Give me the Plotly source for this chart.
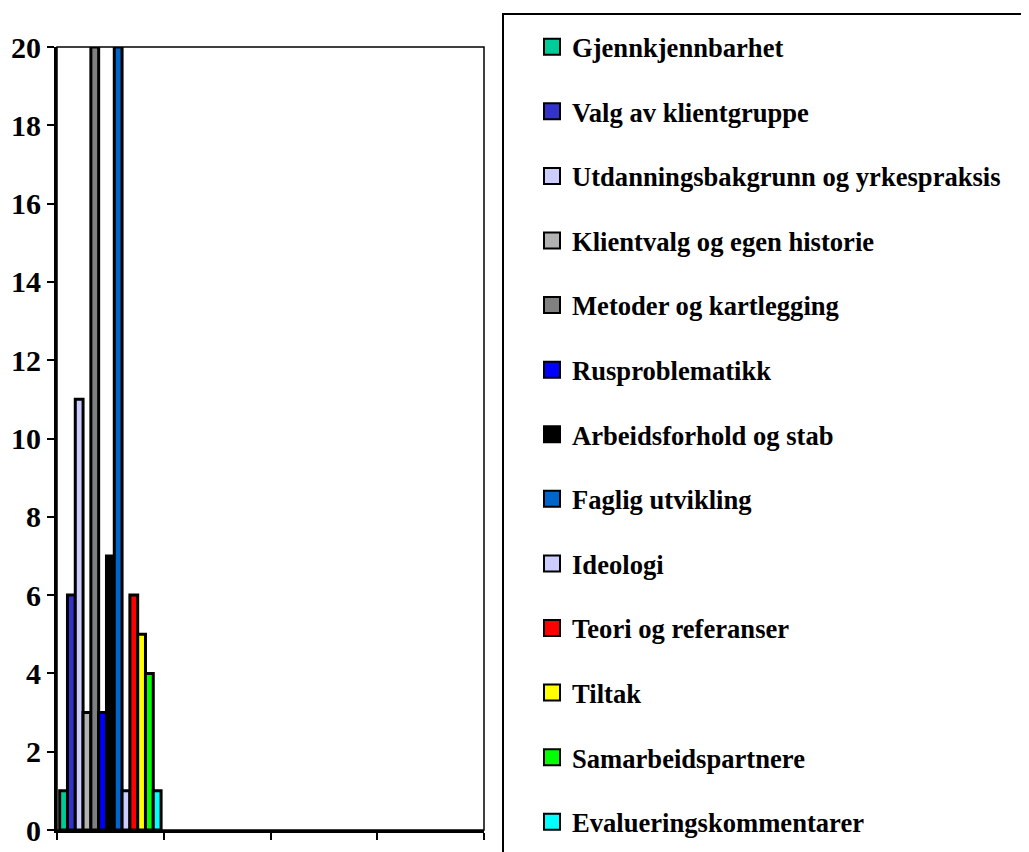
import plotly.graph_objects as go

series_names = [
    "Gjennkjennbarhet",
    "Valg av klientgruppe",
    "Utdanningsbakgrunn og yrkespraksis",
    "Klientvalg og egen historie",
    "Metoder og kartlegging",
    "Rusproblematikk",
    "Arbeidsforhold og stab",
    "Faglig utvikling",
    "Ideologi",
    "Teori og referanser",
    "Tiltak",
    "Samarbeidspartnere",
    "Evalueringskommentarer",
]
series_values = [1, 6, 11, 3, 20, 3, 7, 20, 1, 6, 5, 4, 1]
series_colors = [
    "#00CC99", "#3333CC", "#CCCCFF", "#B2B2B2", "#808080", "#0000FF", "#000000",
    "#0066CC", "#CCCCFF", "#FF0000", "#FFFF00", "#00FF00", "#00FFFF",
]
categories = ["K1", "K2", "K3", "K4"]
y_ticks = [0, 2, 4, 6, 8, 10, 12, 14, 16, 18, 20]

W, H = 1029, 852
OFF = 8  # page body margin
L, R, T, B = 57, 484, 47, 830  # plot area in window pixels


def fx(x):
    return (x - OFF) / W


def fy(y):
    return (H - (y - OFF)) / H


fig = go.Figure()
for i, (name, val, col) in enumerate(zip(series_names, series_values, series_colors)):
    fig.add_trace(go.Bar(
        x=categories,
        y=[val, None, None, None],
        name=name,
        showlegend=False,
        marker=dict(color=col, line=dict(color="black", width=3)),
    ))
# legend entries (same series, shown with larger square keys)
for i, (name, col) in enumerate(zip(series_names, series_colors)):
    fig.add_trace(go.Scatter(
        x=[None], y=[None], mode="markers", name=name, legendgroup=f"g{i}",
        marker=dict(symbol="square", size=16, color=col, line=dict(color="black", width=2)),
        hoverinfo="skip",
    ))

fig.update_layout(
    width=W, height=H,
    margin=dict(l=0, r=0, t=0, b=0),
    paper_bgcolor="white", plot_bgcolor="white",
    barmode="group", bargap=0.05, bargroupgap=0,
    font=dict(family="Liberation Serif", color="black"),
    showlegend=True,
    legend=dict(
        x=fx(532), y=fy(23), xanchor="left", yanchor="top",
        traceorder="grouped", tracegroupgap=27, maxheight=900,
        itemsizing="trace",
        font=dict(family="Liberation Serif", size=26.6, color="black", weight="bold"),
        bgcolor="rgba(0,0,0,0)", borderwidth=0,
    ),
    xaxis=dict(
        domain=[fx(L), fx(R)], automargin=False,
        type="category", categoryorder="array", categoryarray=categories,
        range=[-0.5, 3.5], showticklabels=False, showgrid=False,
        tickson="boundaries", ticks="outside", ticklen=7, tickwidth=2, tickcolor="black",
        showline=True, linecolor="black", linewidth=3, zeroline=False,
    ),
    yaxis=dict(
        domain=[fy(B), fy(T)], automargin=False,
        range=[0, 20], tickvals=y_ticks, showgrid=False, zeroline=False,
        ticks="outside", ticklen=7, tickwidth=2, tickcolor="black",
        showline=True, linecolor="black", linewidth=3,
        tickfont=dict(family="Liberation Serif", size=30, color="black", weight="bold"),
    ),
    shapes=[
        dict(type="rect", xref="paper", yref="paper", x0=fx(L), x1=fx(R), y0=fy(B), y1=fy(T),
             line=dict(color="black", width=1.5), fillcolor="rgba(0,0,0,0)", layer="above"),
        dict(type="rect", xref="paper", yref="paper",
             x0=fx(503), x1=fx(1027), y0=fy(870), y1=fy(14),
             line=dict(color="black", width=2), fillcolor="rgba(0,0,0,0)"),
    ],
)

fig.write_html("out.html")
